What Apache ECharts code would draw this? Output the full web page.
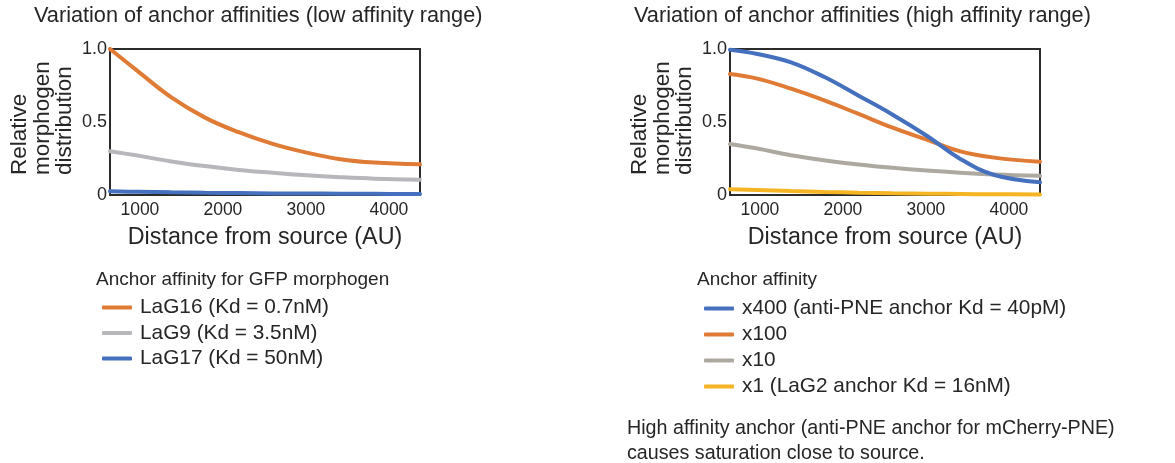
<!DOCTYPE html>
<html>
<head>
<meta charset="utf-8">
<script src="https://cdn.jsdelivr.net/npm/echarts@6/dist/echarts.min.js"></script>
<style>
html,body{margin:0;padding:0;background:#fff;}
#chart{width:1175px;height:463px;}
</style>
</head>
<body>
<div id="chart"></div>
<script>
// ---- data ----
const distance = [640, 970, 1375, 1785, 2190, 2600, 3010, 3415, 3825, 4375];
const xTicks = [1000, 2000, 3000, 4000];
const yTicks = [0, 0.5, 1.0];

// low affinity range
const lowLaG16 = [1.0, 0.85, 0.67, 0.53, 0.43, 0.35, 0.29, 0.245, 0.222, 0.21];
const lowLaG9  = [0.30, 0.27, 0.23, 0.198, 0.172, 0.152, 0.135, 0.122, 0.112, 0.105];
const lowLaG17 = [0.025, 0.022, 0.018, 0.015, 0.013, 0.011, 0.01, 0.009, 0.008, 0.007];

// high affinity range
const highX400 = [0.995, 0.966, 0.909, 0.806, 0.68, 0.55, 0.406, 0.247, 0.137, 0.087];
const highX100 = [0.829, 0.797, 0.728, 0.646, 0.555, 0.461, 0.379, 0.299, 0.256, 0.228];
const highX10  = [0.349, 0.318, 0.272, 0.237, 0.209, 0.186, 0.167, 0.152, 0.140, 0.131];
const highX1   = [0.04, 0.034, 0.027, 0.021, 0.016, 0.012, 0.009, 0.007, 0.005, 0.004];

const lowNames = ['LaG16 (Kd = 0.7nM)', 'LaG9 (Kd = 3.5nM)', 'LaG17 (Kd = 50nM)'];
const highNames = ['x400 (anti-PNE anchor Kd = 40pM)', 'x100', 'x10', 'x1 (LaG2 anchor Kd = 16nM)'];

const titles = ['Variation of anchor affinities (low affinity range)', 'Variation of anchor affinities (high affinity range)'];
const legendHeaders = ['Anchor affinity for GFP morphogen', 'Anchor affinity'];
const footnote = 'High affinity anchor (anti-PNE anchor for mCherry-PNE)\ncauses saturation close to source.';
const xName = 'Distance from source (AU)';
const yName = 'Relative\nmorphogen\ndistribution';

// ---- styling ----
const FONT = '"Liberation Sans", Arial, sans-serif';
const TXT = '#262626';
const C_ORANGE = '#E07B35';
const C_GRAY_L = '#B6B6BB';
const C_GRAY_R = '#ADA9A1';
const C_BLUE = '#4470BE';
const C_YELLOW = '#F4B424';

function pairs(ys) { return distance.map((x, i) => [x, ys[i]]); }

function xAxisFor(idx) {
  return {
    type: 'value', gridIndex: idx, min: 640, max: 4375,
    name: xName, nameLocation: 'middle', nameGap: 31,
    nameTextStyle: { fontSize: 23.3, color: TXT, fontFamily: FONT },
    axisLine: { show: false }, axisTick: { show: false }, splitLine: { show: false },
    axisLabel: { customValues: xTicks, fontSize: 17.5, color: TXT, fontFamily: FONT, margin: 6,
      formatter: v => String(v) }
  };
}
function yAxisFor(idx) {
  return {
    type: 'value', gridIndex: idx, min: 0, max: 1, interval: 0.5,
    axisLine: { show: false }, axisTick: { show: false }, splitLine: { show: false },
    axisLabel: {
      fontSize: 18, color: TXT, fontFamily: FONT, margin: 3,
      formatter: v => (v === 0 ? '0' : v.toFixed(1))
    }
  };
}
function lineSeries(name, data, color, idx) {
  return {
    type: 'line', name, data: pairs(data), xAxisIndex: idx, yAxisIndex: idx,
    smooth: 0.4, symbol: 'none', color,
    lineStyle: { width: 4, color, cap: 'round' }
  };
}

const chart = echarts.init(document.getElementById('chart'), null, { renderer: 'canvas' });

const titleStyle = (size, extra) => Object.assign({ fontSize: size, fontWeight: 'normal', color: TXT, fontFamily: FONT }, extra || {});

const option = {
  animation: false,
  backgroundColor: '#fff',
  textStyle: { fontFamily: FONT },
  title: [
    { text: titles[0], left: 34, top: 5, padding: 0, textStyle: titleStyle(21.7) },
    { text: titles[1], left: 634, top: 5, padding: 0, textStyle: titleStyle(21.7) },
    { text: legendHeaders[0], left: 96, top: 270, padding: 0, textStyle: titleStyle(19) },
    { text: legendHeaders[1], left: 697, top: 270, padding: 0, textStyle: titleStyle(19) },
    { text: footnote, left: 627, top: 416, padding: 0, textStyle: titleStyle(19.7, { lineHeight: 25 }) }
  ],
  grid: [
    { left: 110, top: 49, width: 310, height: 146, show: true, borderColor: '#2b2b2b', borderWidth: 2, backgroundColor: 'transparent' },
    { left: 730, top: 49, width: 310, height: 146, show: true, borderColor: '#2b2b2b', borderWidth: 2, backgroundColor: 'transparent' }
  ],
  xAxis: [xAxisFor(0), xAxisFor(1)],
  yAxis: [yAxisFor(0), yAxisFor(1)],
  legend: [
    {
      data: lowNames, orient: 'vertical', left: 102, top: 297, itemGap: 4.5,
      itemWidth: 30, itemHeight: 4, icon: 'roundRect', padding: 0,
      textStyle: { fontSize: 20.8, color: TXT, fontFamily: FONT, lineHeight: 21, padding: [0, 0, 0, 3] }
    },
    {
      data: highNames, orient: 'vertical', left: 704, top: 298, itemGap: 5,
      itemWidth: 30, itemHeight: 4, icon: 'roundRect', padding: 0,
      textStyle: { fontSize: 20.8, color: TXT, fontFamily: FONT, lineHeight: 21, padding: [0, 0, 0, 3] }
    }
  ],
  graphic: [
    { type: 'text', x: 9, y: 175, rotation: Math.PI / 2, silent: true,
      style: { text: yName, font: '22.5px ' + FONT, fill: TXT, align: 'left', verticalAlign: 'top', lineHeight: 22.5 } },
    { type: 'text', x: 629, y: 175, rotation: Math.PI / 2, silent: true,
      style: { text: yName, font: '22.5px ' + FONT, fill: TXT, align: 'left', verticalAlign: 'top', lineHeight: 22.5 } }
  ],
  series: [
    lineSeries(lowNames[2], lowLaG17, C_BLUE, 0),
    lineSeries(lowNames[1], lowLaG9, C_GRAY_L, 0),
    lineSeries(lowNames[0], lowLaG16, C_ORANGE, 0),
    lineSeries(highNames[3], highX1, C_YELLOW, 1),
    lineSeries(highNames[2], highX10, C_GRAY_R, 1),
    lineSeries(highNames[1], highX100, C_ORANGE, 1),
    lineSeries(highNames[0], highX400, C_BLUE, 1)
  ]
};
chart.setOption(option);
</script>
</body>
</html>
